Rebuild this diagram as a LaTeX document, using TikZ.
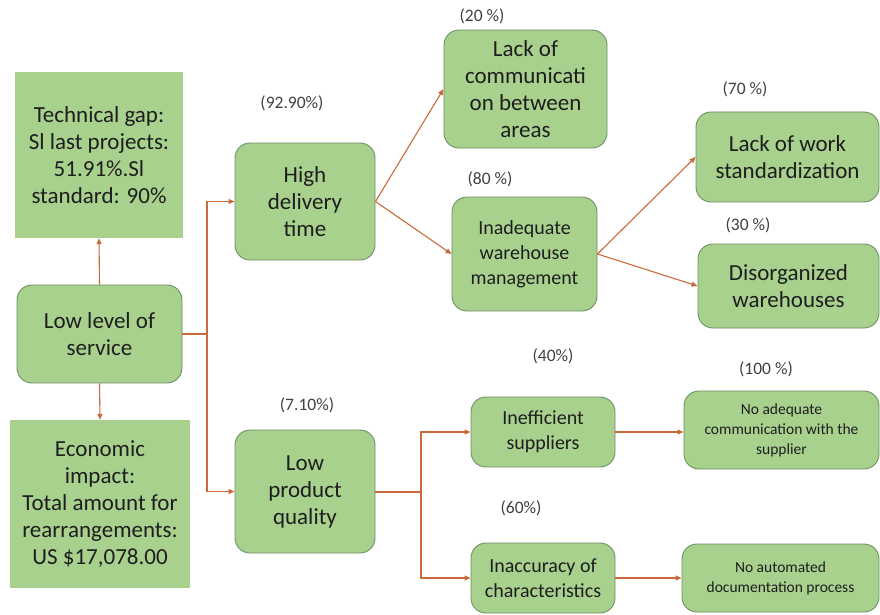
\documentclass[tikz,border=0pt]{standalone}
\usepackage{fontspec}
\setmainfont{Carlito}
\usetikzlibrary{arrows.meta}
\definecolor{boxgreen}{HTML}{A9D18E}
\definecolor{boxedge}{HTML}{6E8F62}
\definecolor{conncol}{HTML}{C96A3A}
\definecolor{txt}{HTML}{1E1E1E}
\tikzset{
  sqbox/.style={fill=boxgreen, draw=none, align=center, inner sep=2pt, text=txt},
  rbox/.style={fill=boxgreen, draw=boxedge, line width=0.9pt, rounded corners=15pt, align=center, inner sep=2pt, text=txt},
  big/.style={font=\fontsize{23}{27}\selectfont},
  mid/.style={font=\fontsize{20}{25}\selectfont},
  small/.style={font=\fontsize{15.5}{20}\selectfont},
  pct/.style={font=\fontsize{17.5}{20}\selectfont, text=txt!85},
  conn/.style={draw=conncol, line width=1.1pt, -{Triangle[length=6pt,width=5pt]}},
  plain/.style={draw=conncol, line width=1.1pt}
}
\begin{document}
\begin{tikzpicture}[x=1pt,y=-1pt]
\useasboundingbox (0,0) rectangle (880,615);
\node[sqbox,big,minimum width=168pt,minimum height=166pt] (tech) at (99,155) {Technical gap:\\Sl last projects:\\51.91\%.Sl\\standard: 90\%};
\node[rbox,big,minimum width=165pt,minimum height=98pt] (low) at (99.5,334) {Low level of\\service};
\node[sqbox,big,minimum width=180pt,minimum height=168pt] (econ) at (100,504) {Economic\\impact:\\Total amount for\\rearrangements:\\US \$17,078.00};
\node[rbox,big,minimum width=140pt,minimum height=117pt] (high) at (305,201.5) {High\\delivery\\time};
\node[rbox,big,minimum width=140pt,minimum height=123pt] (lpq) at (305,491.5) {Low\\product\\quality};
\node[rbox,big,minimum width=163pt,minimum height=118pt] (lcomm) at (525.5,89) {Lack of\\communicati\\on between\\areas};
\node[rbox,mid,minimum width=145pt,minimum height=114pt] (inad) at (524.5,254) {Inadequate\\warehouse\\management};
\node[rbox,big,minimum width=183pt,minimum height=90pt] (lwork) at (787.5,157) {Lack of work\\standardization};
\node[rbox,big,minimum width=181pt,minimum height=84pt] (disorg) at (788.5,286) {Disorganized\\warehouses};
\node[rbox,mid,minimum width=144pt,minimum height=70pt] (ineff) at (543,432) {Inefficient\\suppliers};
\node[rbox,small,minimum width=195pt,minimum height=78pt] (noadq) at (781.5,430) {No adequate\\communication with the\\supplier};
\node[rbox,mid,minimum width=144pt,minimum height=70pt] (inacc) at (543,578) {Inaccuracy of\\characteristics};
\node[rbox,small,minimum width=197pt,minimum height=68pt] (noauto) at (780.5,578) {No automated\\documentation process};

\node[pct] (p1) at (292,103) {(92.90\%)};
\node[pct] (p2) at (482,16) {(20 \%)};
\node[pct] (p3) at (490,179) {(80 \%)};
\node[pct] (p4) at (745,89) {(70 \%)};
\node[pct] (p5) at (748,225) {(30 \%)};
\node[pct] (p6) at (553,356) {(40\%)};
\node[pct] (p7) at (766,369) {(100 \%)};
\node[pct] (p8) at (307,405) {(7.10\%)};
\node[pct] (p9) at (521,508) {(60\%)};

\draw[conn] (low.north) -- (tech.south);
\draw[conn] (low.south) -- (econ.north);
\coordinate (j1) at (207,334);
\draw[plain] (low.east) -- (j1);
\draw[conn] (j1) |- (high.west);
\draw[conn] (j1) |- (lpq.west);
\draw[conn] (high.east) -- (lcomm.west);
\draw[conn] (high.east) -- (inad.west);
\draw[conn] (inad.east) -- (lwork.west);
\draw[conn] (inad.east) -- (disorg.west);
\coordinate (j2) at (421,491.5);
\draw[draw=conncol, line width=2pt] (lpq.east) -- (j2);
\draw[conn] (j2) |- (ineff.west);
\draw[conn] (j2) |- (inacc.west);
\draw[conn] (ineff.east) -- (ineff.east -| noadq.west);
\draw[conn] (inacc.east) -- (noauto.west);
\end{tikzpicture}
\end{document}
